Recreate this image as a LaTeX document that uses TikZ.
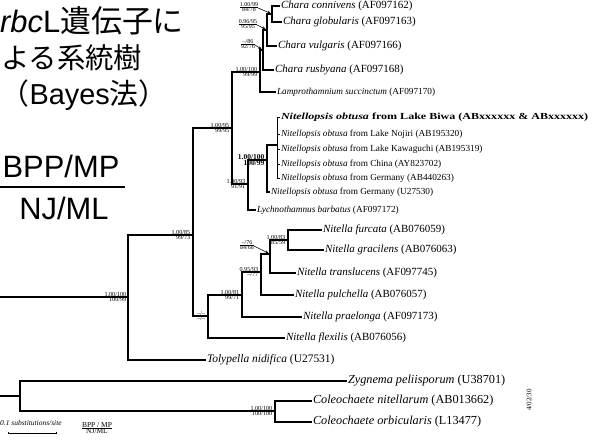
\documentclass[tikz,border=0pt]{standalone}
\usepackage{fontspec}
\setmainfont{Liberation Serif}
\newfontfamily\jpfont{Noto Sans CJK JP}
\newfontfamily\arialfont{Liberation Sans}
\usetikzlibrary{arrows.meta}
\begin{document}
\begin{tikzpicture}[x=1bp,y=-1bp,
  br/.style={line width=1.3bp},
  tipA/.style={anchor=west, inner sep=0.8bp, font=\fontsize{11}{12}\selectfont},
  tipB/.style={anchor=west, inner sep=0.8bp, font=\fontsize{9.3}{11}\selectfont},
  tipC/.style={anchor=west, inner sep=0.8bp, font=\fontsize{12.3}{14}\selectfont},
  supU/.style={anchor=south east, inner sep=0.5bp, font=\fontsize{6.2}{6.2}\selectfont},
  supL/.style={anchor=north east, inner sep=0.5bp, font=\fontsize{6.2}{6.2}\selectfont},
  arrlab/.style={inner sep=0pt, font=\fontsize{6}{6}\selectfont},
  arr/.style={-{Stealth[length=3.5bp,width=3bp]}, line width=0.6bp, shorten >=1.5bp},
  title/.style={anchor=base west, inner sep=0pt, font=\fontsize{29}{29}\selectfont},
  legbig/.style={anchor=base, inner sep=0pt, font=\arialfont\fontsize{31}{31}\selectfont}
]
\useasboundingbox (0,0) rectangle (595,441);
\fill[white] (0,0) rectangle (595,441);

% ---------- title and legend ----------
\node[title, font=\fontsize{31}{31}\selectfont] (ti1) at (0,33) {\arialfont\textit{rbc}L\jpfont 遺伝子に};
\node[title, font=\fontsize{28.5}{28.5}\selectfont] (ti2) at (1,69) {\jpfont よる系統樹};
\node[title] (ti3) at (0.5,105) {\jpfont （\arialfont Bayes\jpfont 法）};
\node[legbig] (lg1) at (61,178) {BPP/MP};
\coordinate (lgr1) at (0,187);
\coordinate (lgr2) at (125,187);
\draw[line width=2.6bp] (lgr1) -- (lgr2);
\node[legbig] (lg2) at (64,220) {NJ/ML};

% ---------- internal nodes ----------
\coordinate (N1) at (272,14);
\coordinate (N2) at (267,30);
\coordinate (N3) at (263,50);
\coordinate (N4) at (260,72);
\coordinate (I)  at (277,145);
\coordinate (H)  at (267,160);
\coordinate (G)  at (248,184);
\coordinate (C)  at (232,128);
\coordinate (B)  at (193,235);
\coordinate (K)  at (288,240);
\coordinate (L)  at (270,254);
\coordinate (J)  at (261,272);
\coordinate (F)  at (242,295);
\coordinate (E)  at (208,316);
\coordinate (A)  at (128,297);
\coordinate (S1) at (0,297);
\coordinate (R)  at (20,396);
\coordinate (S2) at (0,396);
\coordinate (Q)  at (275,411);

% ---------- tips ----------
\node[tipA] (t1) at (280,6) {\textit{Chara connivens} (AF097162)};
\node[tipA] (t2) at (282,22) {\textit{Chara globularis} (AF097163)};
\node[tipA] (t3) at (277,46) {\textit{Chara vulgaris} (AF097166)};
\node[tipA] (t4) at (274,70) {\textit{Chara rusbyana} (AF097168)};
\node[tipB] (t5) at (276,92) {\textit{Lamprothamnium succinctum} (AF097170)};
\node[tipB] (t6) at (280,117) {\scalebox{1.3}[1]{\bfseries\textit{Nitellopsis obtusa} from Lake Biwa (ABxxxxxx \& ABxxxxxx)}};
\node[tipB] (t7) at (280,134) {\textit{Nitellopsis obtusa} from Lake Nojiri (AB195320)};
\node[tipB] (t8) at (280,149) {\textit{Nitellopsis obtusa} from Lake Kawaguchi (AB195319)};
\node[tipB] (t9) at (280,164) {\textit{Nitellopsis obtusa} from China (AY823702)};
\node[tipB] (t10) at (280,178) {\textit{Nitellopsis obtusa} from Germany (AB440263)};
\node[tipB] (t11) at (270,192) {\textit{Nitellopsis obtusa} from Germany (U27530)};
\node[tipB] (t12) at (256,210) {\textit{Lychnothamnus barbatus} (AF097172)};
\node[tipA] (t13) at (322,230) {\textit{Nitella furcata} (AB076059)};
\node[tipA] (t14) at (324,250) {\textit{Nitella gracilens} (AB076063)};
\node[tipA] (t15) at (296,273) {\textit{Nitella translucens} (AF097745)};
\node[tipA] (t16) at (294,295) {\textit{Nitella pulchella} (AB076057)};
\node[tipA] (t17) at (302,317) {\textit{Nitella praelonga} (AF097173)};
\node[tipA] (t18) at (285,338) {\textit{Nitella flexilis} (AB076056)};
\node[tipA, font=\fontsize{11.5}{12}\selectfont] (t19) at (206,360) {\textit{Tolypella nidifica} (U27531)};
\node[tipC] (t20) at (347,381) {\textit{Zygnema peliisporum} (U38701)};
\node[tipC] (t21) at (312,401) {\textit{Coleochaete nitellarum} (AB013662)};
\node[tipC] (t22) at (312,422) {\textit{Coleochaete orbicularis} (L13477)};

% ---------- branches ----------
\draw[br] (N1) |- (t1.west);
\draw[br] (N1) |- (t2.west);
\draw[br] (N2) |- (N1);
\draw[br] (N2) |- (t3.west);
\draw[br] (N3) |- (N2);
\draw[br] (N3) |- (t4.west);
\draw[br] (N4) |- (N3);
\draw[br] (N4) |- (t5.west);
\draw[br, line width=0.8bp] (I) |- (t6.west);
\draw[br, line width=0.8bp] (I) |- (t7.west);
\draw[br, line width=0.8bp] (I) |- (t8.west);
\draw[br, line width=0.8bp] (I) |- (t9.west);
\draw[br, line width=0.8bp] (I) |- (t10.west);
\draw[br] (H) |- (I);
\draw[br] (H) |- (t11.west);
\draw[br] (G) |- (H);
\draw[br] (G) |- (t12.west);
\draw[br] (C) |- (N4);
\draw[br] (C) |- (G);
\draw[br] (K) |- (t13.west);
\draw[br] (K) |- (t14.west);
\draw[br] (L) |- (K);
\draw[br] (L) |- (t15.west);
\draw[br] (J) |- (L);
\draw[br] (J) |- (t16.west);
\draw[br] (F) |- (J);
\draw[br] (F) |- (t17.west);
\draw[br] (E) |- (F);
\draw[br] (E) |- (t18.west);
\draw[br] (B) |- (C);
\draw[br] (B) |- (E);
\draw[br] (A) |- (B);
\draw[br] (A) |- (t19.west);
\draw[br] (S1) -- (A);
\draw[br] (R) |- (t20.west);
\draw[br] (R) |- (Q);
\draw[br] (Q) |- (t21.west);
\draw[br] (Q) |- (t22.west);
\draw[br] (S2) -- (R);

% ---------- support values ----------
\node[arrlab] (a1) at (249,8) {\begin{tabular}{@{}c@{}}1.00/99\\[-1.5bp]\hline 84/78\end{tabular}};
\draw[arr] (a1.east) -- (N1);
\node[arrlab] (a2) at (248,25) {\begin{tabular}{@{}c@{}}0.96/95\\[-1.5bp]\hline 95/95\end{tabular}};
\draw[arr] (a2.east) -- (N2);
\node[arrlab] (a3) at (248,45) {\begin{tabular}{@{}c@{}}--/86\\[-1.5bp]\hline 92/76\end{tabular}};
\draw[arr] (a3.east) -- (N3);
\node[arrlab] (a4) at (247,246) {\begin{tabular}{@{}c@{}}--/76\\[-1.5bp]\hline 84/68\end{tabular}};
\draw[arr] (a4.east) -- (L);

\node[supU] (s1u) at (258,72) {1.00/100};
\node[supL] (s1l) at (258,72) {99/99};
\node[supU] (s2u) at (230,128) {1.00/95};
\node[supL] (s2l) at (230,128) {99/95};
\node[supU, font=\bfseries\fontsize{7.5}{7.5}\selectfont] (s3u) at (265,160) {1.00/100};
\node[supL, font=\bfseries\fontsize{7.5}{7.5}\selectfont] (s3l) at (265,160) {100/99};
\node[supU] (s4u) at (246,184) {1.00/93};
\node[supL] (s4l) at (246,184) {91/91};
\node[supU] (s5u) at (191,235) {1.00/85};
\node[supL] (s5l) at (191,235) {99/73};
\node[supU] (s6u) at (286,240) {1.00/83};
\node[supL] (s6l) at (286,240) {85/59};
\node[supU] (s7u) at (259,272) {0.95/93};
\node[supL] (s7l) at (259,272) {--/77};
\node[supU] (s8u) at (240,295) {1.00/81};
\node[supL] (s8l) at (240,295) {99/71};
\node[supU] (s9u) at (206,316) {--/--};
\node[supL] (s9l) at (206,316) {--/--};
\node[supU] (s10u) at (127,297) {1.00/100};
\node[supL] (s10l) at (127,297) {100/99};
\node[supU] (s11u) at (273,411) {1.00/100};
\node[supL] (s11l) at (273,411) {100/100};

% ---------- scale bar and small legend ----------
\node[anchor=west, inner sep=0pt, font=\itshape\fontsize{7.5}{7.5}\selectfont] (sbt) at (0,423) {0.1 substitutions/site};
\coordinate (sb1) at (8,433);
\coordinate (sb2) at (57,433);
\draw[line width=0.7bp, {Bar[width=2.5bp]}-{Bar[width=2.5bp]}] (sb1) -- (sb2);
\node[inner sep=0pt, font=\fontsize{7.5}{7.5}\selectfont] (lgs) at (97,429) {\begin{tabular}{@{}c@{}}BPP / MP\\[-1.5bp]\hline NJ/ML\end{tabular}};

\node[rotate=90, inner sep=0pt, font=\fontsize{7}{7}\selectfont] (stamp) at (529,400) {4/02/30};
\end{tikzpicture}
\end{document}
